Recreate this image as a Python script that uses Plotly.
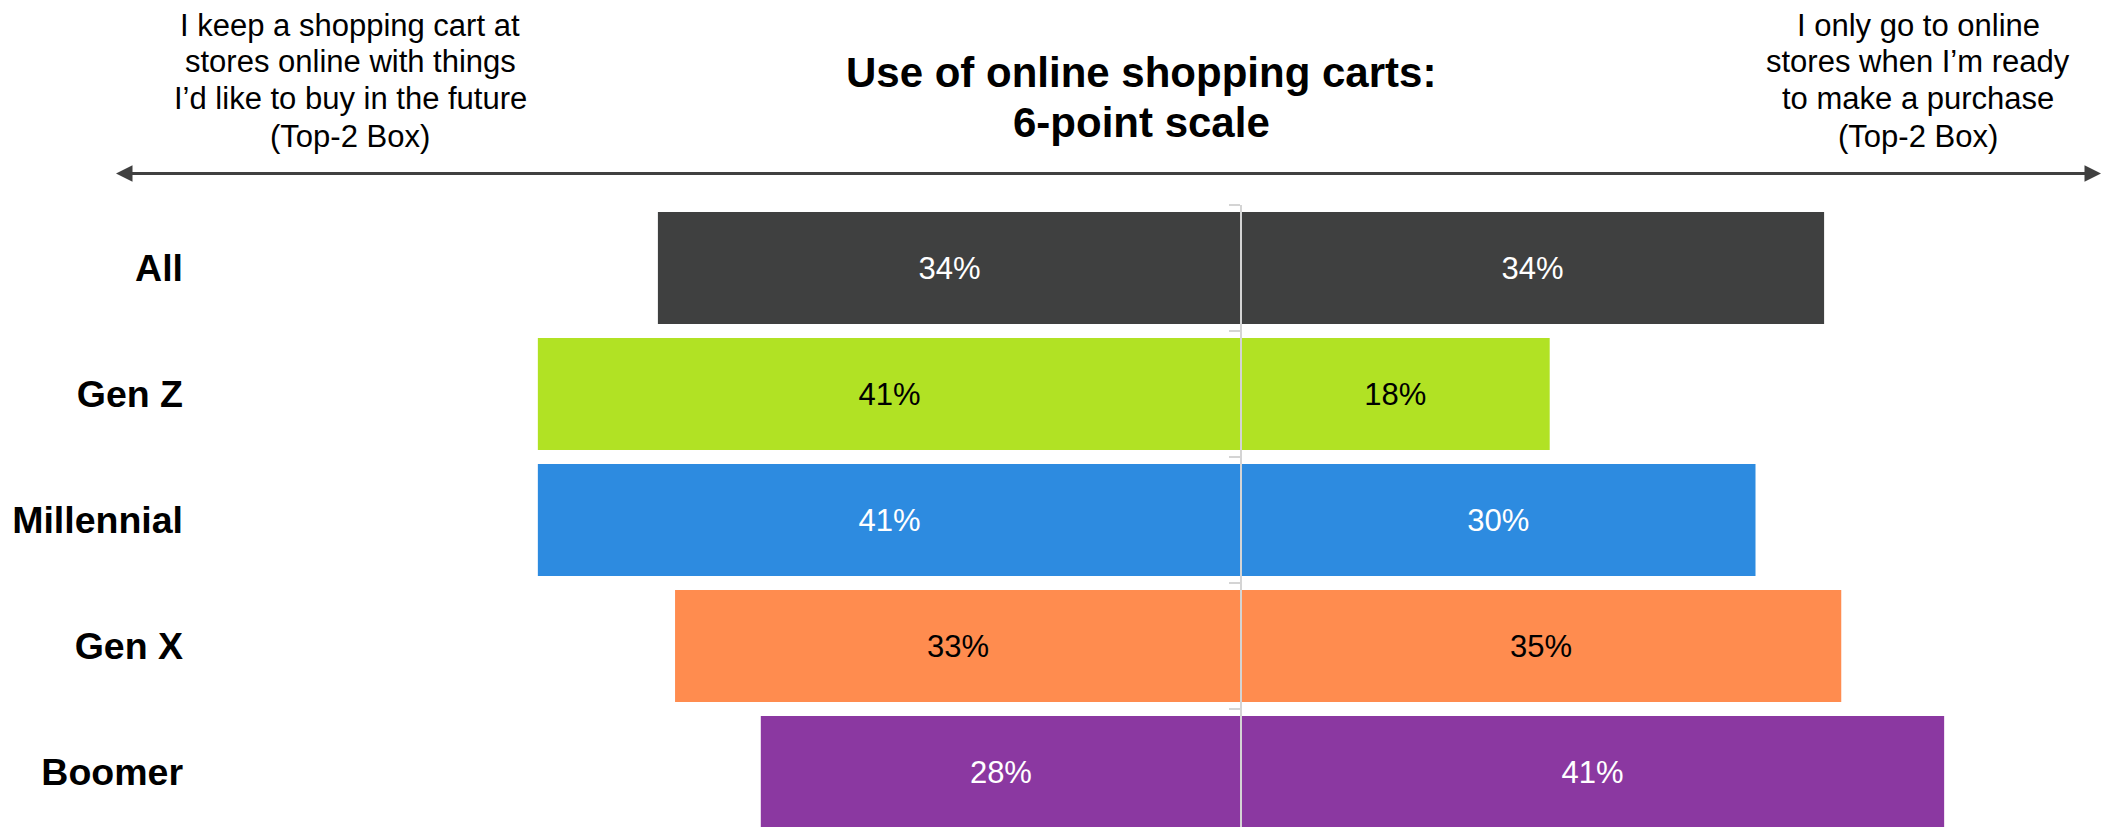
import plotly.graph_objects as go

# Survey groups and Top-2 Box shares (%)
groups = ["All", "Gen Z", "Millennial", "Gen X", "Boomer"]
keep_cart = [34, 41, 41, 33, 28]          # left side statement
ready_to_buy = [34, 18, 30, 35, 41]       # right side statement
bar_colors = ["#3f4040", "#b1e224", "#2d8be0", "#ff8c4f", "#8b38a1"]
text_colors = ["#ffffff", "#000000", "#ffffff", "#000000", "#ffffff"]

title_lines = ["Use of online shopping carts:", "6-point scale"]
left_lines = ["I keep a shopping cart at", "stores online with things",
              "I\u2019d like to buy in the future", "(Top-2 Box)"]
right_lines = ["I only go to online", "stores when I\u2019m ready",
               "to make a purchase", "(Top-2 Box)"]

W, H = 2105, 827
ML, MT = 188, 205
PW, PH = W - ML, H - MT
ZERO_PX = 1241          # horizontal pixel of the 0 baseline
PX_PER_PCT = 17.15

x_range = [(ML - ZERO_PX) / PX_PER_PCT, (W - ZERO_PX) / PX_PER_PCT]
y_range = [-0.5 + PH / 126.0, -0.5]


def px(xp):
    return (xp - ML) / PW


def py(yp):
    return (H - yp) / PH


FONT = "Liberation Sans, Arial, sans-serif"

fig = go.Figure()
fig.add_trace(go.Bar(
    y=groups, x=[-v for v in keep_cart], orientation="h",
    marker=dict(color=bar_colors, line=dict(width=0)),
    text=[f"{v}%" for v in keep_cart], textposition="inside",
    insidetextanchor="middle", textangle=0,
    textfont=dict(family=FONT, size=31, color=text_colors),
    width=0.89, hoverinfo="skip", showlegend=False,
))
fig.add_trace(go.Bar(
    y=groups, x=ready_to_buy, orientation="h",
    marker=dict(color=bar_colors, line=dict(width=0)),
    text=[f"{v}%" for v in ready_to_buy], textposition="inside",
    insidetextanchor="middle", textangle=0,
    textfont=dict(family=FONT, size=31, color=text_colors),
    width=0.89, hoverinfo="skip", showlegend=False,
))
# carrier for the centre axis with boundary ticks
fig.add_trace(go.Scatter(
    y=groups, x=[0] * len(groups), yaxis="y2", mode="none",
    hoverinfo="skip", showlegend=False,
))

annotations = []
for i, line in enumerate(title_lines):
    annotations.append(dict(
        text=f"<b>{line}</b>", x=px(1141), y=py([73, 123][i]),
        xref="paper", yref="paper", xanchor="center", yanchor="middle",
        showarrow=False, font=dict(family=FONT, size=42, color="#000000")))
for i, line in enumerate(left_lines):
    annotations.append(dict(
        text=line, x=px(350), y=py(25 + 37 * i),
        xref="paper", yref="paper", xanchor="center", yanchor="middle",
        showarrow=False, font=dict(family=FONT, size=31, color="#000000")))
for i, line in enumerate(right_lines):
    annotations.append(dict(
        text=line, x=px(1918), y=py(25 + 37 * i),
        xref="paper", yref="paper", xanchor="center", yanchor="middle",
        showarrow=False, font=dict(family=FONT, size=31, color="#000000")))

# double-headed scale arrow (two halves meeting in the middle)
ARROW_Y = 173.5
for tip, tail in [(116, 1112), (2101, 1090)]:
    annotations.append(dict(
        x=px(tip), y=py(ARROW_Y), ax=tail - tip, ay=0,
        xref="paper", yref="paper", axref="pixel", ayref="pixel",
        text="", showarrow=True, arrowhead=2, arrowsize=1.1,
        arrowwidth=3, arrowcolor="#404040"))

fig.update_layout(
    width=W, height=H,
    margin=dict(l=ML, r=0, t=MT, b=0, pad=0),
    paper_bgcolor="#ffffff", plot_bgcolor="#ffffff",
    barmode="relative", bargap=0.11,
    xaxis=dict(range=x_range, showgrid=False, zeroline=False,
               showticklabels=False, ticks="", fixedrange=True),
    yaxis=dict(type="category", categoryorder="array", categoryarray=groups,
               range=y_range, showgrid=False, zeroline=False, ticks="",
               showline=False, ticklabelstandoff=4,
               tickfont=dict(family=FONT, size=37.5, color="#000000"),
               tickprefix="<b>", ticksuffix="</b>"),
    yaxis2=dict(type="category", categoryorder="array", categoryarray=groups,
                range=y_range, overlaying="y", anchor="free",
                position=px(ZERO_PX), side="left",
                showgrid=False, zeroline=False, showticklabels=False,
                showline=True, linecolor="#d4d4d4", linewidth=2,
                ticks="outside", tickson="boundaries", ticklen=11,
                tickwidth=2, tickcolor="#d4d4d4"),
    annotations=annotations,
)

fig.write_html("out.html")
